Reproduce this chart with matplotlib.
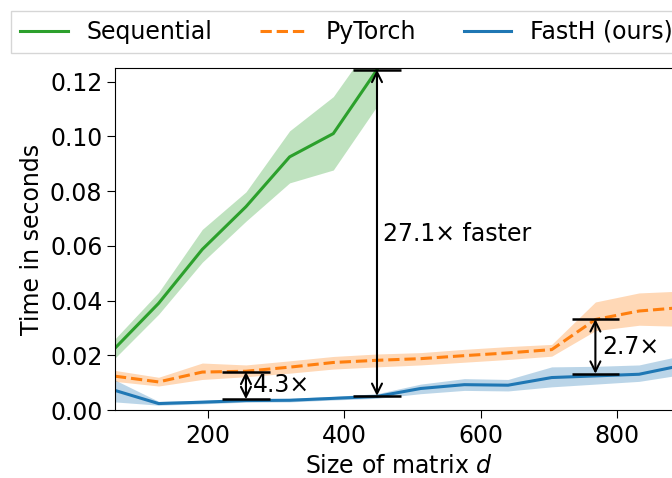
import numpy as np
import matplotlib.pyplot as plt

# matrix sizes d
sizes = [64, 128, 192, 256, 320, 384, 448, 512, 576, 640, 704, 768, 832, 896]

# Sequential (only measured up to 448)
seq_sizes = [64, 128, 192, 256, 320, 384, 448]
seq_mean = [0.0226, 0.039, 0.0587, 0.0743, 0.0925, 0.101, 0.1243]
seq_low = [0.019, 0.035, 0.054, 0.069, 0.083, 0.0877, 0.111]
seq_high = [0.026, 0.043, 0.066, 0.0797, 0.102, 0.1145, 0.137]

# PyTorch
pt_mean = [0.0124, 0.0103, 0.0139, 0.0142, 0.0157, 0.0174, 0.0182,
           0.0188, 0.0199, 0.0209, 0.0221, 0.0331, 0.0362, 0.0375]
pt_low = [0.0105, 0.0088, 0.0112, 0.0122, 0.0135, 0.0150, 0.0158,
          0.0165, 0.0175, 0.0185, 0.0197, 0.0290, 0.0310, 0.0306]
pt_high = [0.0145, 0.0120, 0.0172, 0.0165, 0.0180, 0.0196, 0.0205,
           0.0210, 0.0222, 0.0232, 0.0240, 0.0395, 0.0428, 0.0435]

# FastH (ours)
fh_mean = [0.0072, 0.0024, 0.0029, 0.0035, 0.0036, 0.0043, 0.0050,
           0.0079, 0.0093, 0.0091, 0.0119, 0.0125, 0.0131, 0.0164]
fh_low = [0.0030, 0.0018, 0.0023, 0.0029, 0.0030, 0.0037, 0.0043,
          0.0060, 0.0072, 0.0070, 0.0085, 0.0095, 0.0105, 0.0130]
fh_high = [0.0110, 0.0032, 0.0036, 0.0042, 0.0043, 0.0050, 0.0060,
           0.0095, 0.0115, 0.0112, 0.0158, 0.0160, 0.0165, 0.0200]

# speed-up annotations: (d, upper, lower, label, label x, label y)
speedups = [
    (256, 0.0140, 0.0040, "4.3×", 266, 0.0091),
    (448, 0.1243, 0.0052, "27.1× faster", 457, 0.0643),
    (768, 0.0332, 0.0133, "2.7×", 778, 0.0231),
]

plt.rcParams['font.size'] = 17
plt.rcParams['xtick.major.size'] = 5.5
plt.rcParams['ytick.major.size'] = 5.5
plt.rcParams['xtick.major.pad'] = 4.5

fig = plt.figure(figsize=(6.72, 4.78), dpi=100)
ax = fig.add_axes([0.171, 0.142, 0.845, 0.716])

ax.plot(seq_sizes, seq_mean, color='#2ca02c', lw=2.2, label='Sequential')
ax.fill_between(seq_sizes, seq_low, seq_high, color='#2ca02c', alpha=0.3, lw=0)
ax.plot(sizes, pt_mean, color='#ff7f0e', lw=2.2, ls='--', label='PyTorch')
ax.fill_between(sizes, pt_low, pt_high, color='#ff7f0e', alpha=0.3, lw=0)
ax.plot(sizes, fh_mean, color='#1f77b4', lw=2.2, label='FastH (ours)')
ax.fill_between(sizes, fh_low, fh_high, color='#1f77b4', alpha=0.3, lw=0)

for d, hi, lo, label, tx, ty in speedups:
    ax.hlines([hi, lo], d - 35, d + 35, color='black', lw=1.8, clip_on=False)
    ax.annotate('', xy=(d, hi), xytext=(d, lo),
                arrowprops=dict(arrowstyle='<->', color='black', lw=1.5,
                                shrinkA=0, shrinkB=0, mutation_scale=18))
    ax.text(tx, ty, label, va='center', ha='left')

ax.set_xlim(64, 896)
ax.set_ylim(0, 0.125)
ax.set_xticks([200, 400, 600, 800])
ax.set_yticks([0.0, 0.02, 0.04, 0.06, 0.08, 0.10, 0.12])
ax.set_yticklabels(['0.00', '0.02', '0.04', '0.06', '0.08', '0.10', '0.12'])
ax.set_xlabel('Size of matrix $d$')
ax.set_ylabel('Time in seconds')

fig.legend(loc='upper left', bbox_to_anchor=(0.0164, 0.978), ncol=3,
           fancybox=False, borderaxespad=0)

fig.savefig('out.png', dpi=100)
